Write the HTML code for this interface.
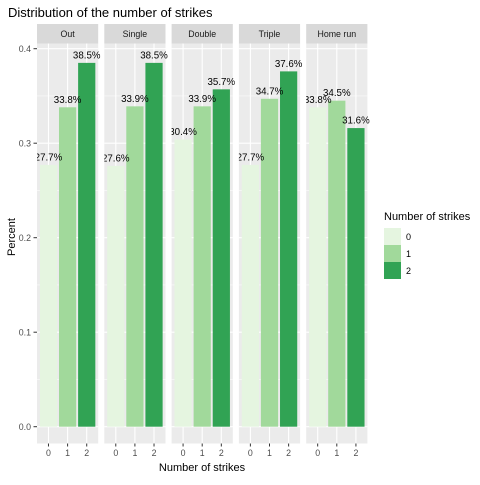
<!DOCTYPE html>
<html><head><meta charset="utf-8"><style>
body{margin:0;background:#fff}
text{font-family:"Liberation Sans",Arial,sans-serif}
</style></head><body>
<svg id="chart" width="480" height="480" xmlns="http://www.w3.org/2000/svg">
<rect width="480" height="480" fill="#fff"/>
<text x="8" y="17" font-size="13" fill="#000">Distribution of the number of strikes</text>
<text x="0" y="0" font-size="11" fill="#000" text-anchor="middle" transform="translate(15,237) rotate(-90)">Percent</text>
<text x="202" y="471" font-size="11" fill="#000" text-anchor="middle">Number of strikes</text>
<g id="panels"></g>
<g>
<text x="384" y="220" font-size="11" fill="#000">Number of strikes</text>
<rect x="384" y="228" width="17" height="17" fill="#E5F5E0"/>
<rect x="384" y="245" width="17" height="17" fill="#A1D99B"/>
<rect x="384" y="262" width="17" height="17" fill="#31A354"/>
<text x="406" y="240" font-size="9" fill="#000">0</text>
<text x="406" y="257" font-size="9" fill="#000">1</text>
<text x="406" y="274" font-size="9" fill="#000">2</text>
</g>
</svg>
<script>
const facets = ["Out","Single","Double","Triple","Home run"];
const categories = ["0","1","2"];
const values0 = [0.277,0.276,0.304,0.277,0.338];
const values1 = [0.338,0.339,0.339,0.347,0.345];
const values2 = [0.385,0.385,0.357,0.376,0.316];
const yTicks = [0,0.1,0.2,0.3,0.4];
const yTickLabels = ["0.0","0.1","0.2","0.3","0.4"];
const colors = ["#E5F5E0","#A1D99B","#31A354"];

const NS="http://www.w3.org/2000/svg";
const g=document.getElementById('panels');
const panelLeft0=37, panelStep=67.3, panelW=61.2, panelTop=43.5, panelBot=443.5, stripTop=24;
const y0=426.7, yPer=945;
function yScale(v){return y0-v*yPer;}
function xScale(p,i){return panelLeft0+p*panelStep+panelW*(0.6+i)/3.2;}
const bw=panelW/3.2*0.9;
function el(tag,attrs,parent){const e=document.createElementNS(NS,tag);for(const k in attrs)e.setAttribute(k,attrs[k]);(parent||g).appendChild(e);return e;}
const defs=el('defs',{});
yTicks.forEach((t,i)=>{
  const y=yScale(t);
  const tl=el('text',{x:31,y:y+3.2,'font-size':8.8,fill:'#4d4d4d','text-anchor':'end'});
  
  
  tl.textContent=yTickLabels[i];
  el('line',{x1:33.5,x2:37,y1:y,y2:y,stroke:'#333','stroke-width':1});
});
facets.forEach((f,p)=>{
  const L=panelLeft0+p*panelStep;
  const pg=el('g',{});
  
  
  const cp=el('clipPath',{id:'cp'+p},defs);
  el('rect',{x:L,y:panelTop,width:panelW+2,height:panelBot-panelTop},cp);
  el('rect',{x:L,y:panelTop,width:panelW,height:panelBot-panelTop,fill:'#EBEBEB'},pg);
  for(let k=0;k<yTicks.length;k++){const v=yTicks[k]+0.05;const y=yScale(v);if(y>panelTop)el('line',{x1:L,x2:L+panelW,y1:y,y2:y,stroke:'#fff','stroke-width':0.5},pg);}
  yTicks.forEach(t=>{const y=yScale(t);el('line',{x1:L,x2:L+panelW,y1:y,y2:y,stroke:'#fff','stroke-width':1.1},pg);});
  categories.forEach((c,i)=>{const x=xScale(p,i);el('line',{x1:x,x2:x,y1:panelTop,y2:panelBot,stroke:'#fff','stroke-width':1.1},pg);});
  const st=el('rect',{x:L,y:stripTop,width:panelW,height:panelTop-stripTop,fill:'#D9D9D9'},pg);
  
  
  const stt=el('text',{x:L+panelW/2,y:stripTop+13,'font-size':8.8,fill:'#1a1a1a','text-anchor':'middle'},pg);
  
  
  stt.textContent=f;
  const series=[values0[p],values1[p],values2[p]];
  const cg=el('g',{'clip-path':'url(#cp'+p+')'},pg);
  series.forEach((v,i)=>{
    const x=xScale(p,i);
    const b=el('rect',{x:x-bw/2,y:yScale(v),width:bw,height:yScale(0)-yScale(v),fill:colors[i]},cg);
    
    
  });
  series.forEach((v,i)=>{
    const x=xScale(p,i);
    const t=el('text',{x:x-13.8,y:yScale(v)-4.5,'font-size':10.5,fill:'#000',textLength:27.6,lengthAdjust:'spacingAndGlyphs'},cg);
    
    
    t.textContent=(v*100).toFixed(1)+'%';
  });
  categories.forEach((c,i)=>{
    const x=xScale(p,i);
    el('line',{x1:x,x2:x,y1:panelBot,y2:panelBot+3,stroke:'#333','stroke-width':1},pg);
    const t=el('text',{x:x,y:panelBot+12.5,'font-size':8.8,fill:'#4d4d4d','text-anchor':'middle'},pg);
    
    
    t.textContent=c;
  });
});
</script>
</body></html>
